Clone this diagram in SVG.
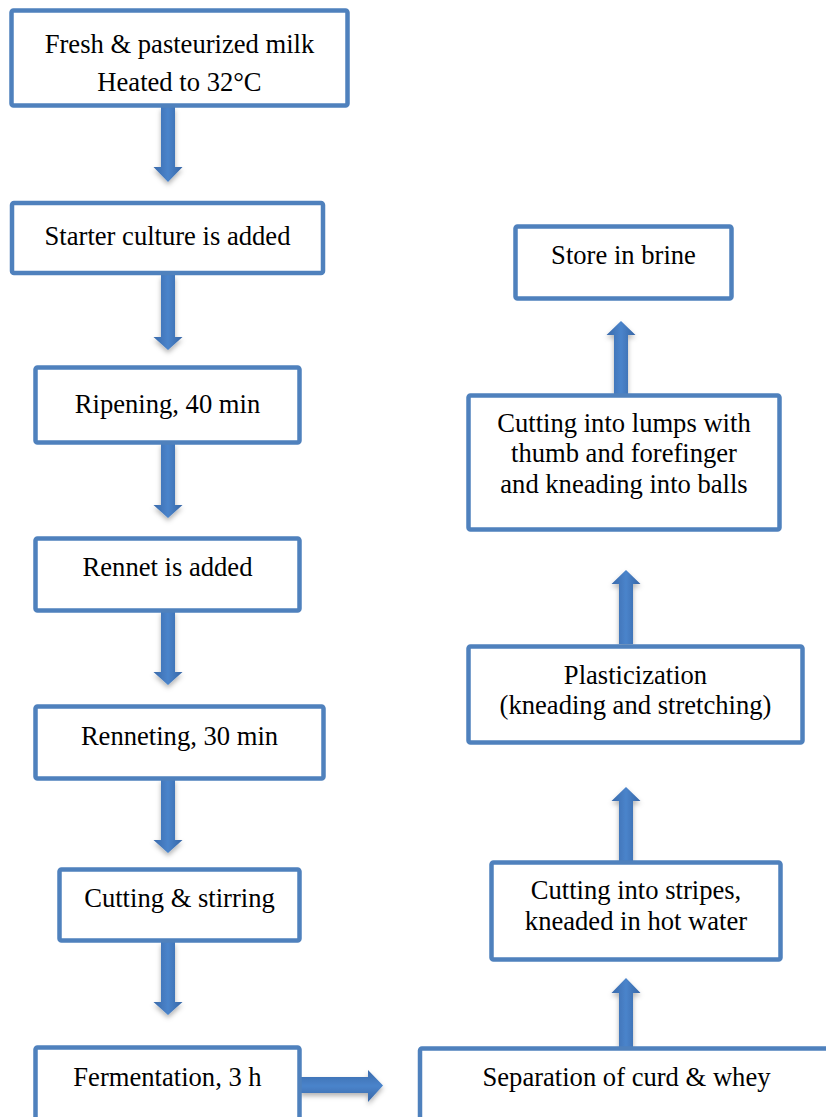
<svg xmlns="http://www.w3.org/2000/svg" width="826" height="1117" viewBox="0 0 826 1117">
  <defs>
    <style>
      .box { fill: #ffffff; stroke: #4f81bd; stroke-width: 4.5; }
      .lbl { font-family: "Liberation Serif", "Times New Roman", serif; font-size: 26.6px; fill: #000000; text-anchor: middle; }
      .arr { fill: url(#gv); filter: url(#sh); }
      .arrh { fill: url(#gh); filter: url(#sh); }
    </style>
    <linearGradient id="gv" x1="0" y1="0" x2="1" y2="0">
      <stop offset="0" stop-color="#3a6aab"/>
      <stop offset="0.5" stop-color="#4a84cb"/>
      <stop offset="1" stop-color="#3766a6"/>
    </linearGradient>
    <linearGradient id="gh" x1="0" y1="0" x2="0" y2="1">
      <stop offset="0" stop-color="#3a6aab"/>
      <stop offset="0.5" stop-color="#4a84cb"/>
      <stop offset="1" stop-color="#3766a6"/>
    </linearGradient>
    <filter id="sh" x="-50%" y="-20%" width="200%" height="150%">
      <feDropShadow dx="0" dy="3" stdDeviation="2.5" flood-color="#000000" flood-opacity="0.3"/>
    </filter>
  </defs>
  <rect width="826" height="1117" fill="#ffffff"/>

  <g id="connectors">
    <path class="arr" d="M161 107 H175 V167 H182.5 L168 182 L153.5 167 H161 Z"/>
    <path class="arr" d="M161 275 H175 V337 H182.5 L168 350 L153.5 337 H161 Z"/>
    <path class="arr" d="M161 443 H175 V505 H182.5 L168 518 L153.5 505 H161 Z"/>
    <path class="arr" d="M161 611 H175 V672 H182.5 L168 685 L153.5 672 H161 Z"/>
    <path class="arr" d="M161 779 H175 V840 H182.5 L168 853 L153.5 840 H161 Z"/>
    <path class="arr" d="M161 942 H175 V1002 H182.5 L168 1015 L153.5 1002 H161 Z"/>
    <path class="arrh" d="M300 1077 V1093 H368 V1102 L383 1085.5 L368 1070 V1077 Z"/>
    <path class="arr" d="M619 1047 H633 V993 H640.5 L626 978 L611.5 993 H619 Z"/>
    <path class="arr" d="M619 861 H633 V801 H640.5 L626 787 L611.5 801 H619 Z"/>
    <path class="arr" d="M619 644 H633 V584 H640.5 L626 570 L611.5 584 H619 Z"/>
    <path class="arr" d="M614 394 H628 V335 H635.5 L621 321 L606.5 335 H614 Z"/>
  </g>

  <g id="n1">
    <rect class="box" x="11.5" y="10.5" width="336" height="95" rx="2"/>
    <text class="lbl" x="179.5" y="53">Fresh &amp; pasteurized milk</text>
    <text class="lbl" x="179.5" y="91">Heated to 32°C</text>
  </g>
  <g id="n2">
    <rect class="box" x="12" y="203" width="311" height="70" rx="2"/>
    <text class="lbl" x="167.5" y="244.5">Starter culture is added</text>
  </g>
  <g id="n3">
    <rect class="box" x="35.5" y="367.5" width="264" height="75" rx="2"/>
    <text class="lbl" x="167.5" y="412.5">Ripening, 40 min</text>
  </g>
  <g id="n4">
    <rect class="box" x="35.5" y="538.5" width="264" height="72" rx="2"/>
    <text class="lbl" x="167.5" y="575.5">Rennet is added</text>
  </g>
  <g id="n5">
    <rect class="box" x="35.5" y="706.5" width="288" height="72" rx="2"/>
    <text class="lbl" x="179.5" y="744.5">Renneting, 30 min</text>
  </g>
  <g id="n6">
    <rect class="box" x="59.5" y="869.5" width="240" height="71" rx="2"/>
    <text class="lbl" x="179.5" y="906.5">Cutting &amp; stirring</text>
  </g>
  <g id="n7">
    <rect class="box" x="35.5" y="1047.5" width="264" height="90" rx="2"/>
    <text class="lbl" x="167.5" y="1085.5">Fermentation, 3 h</text>
  </g>
  <g id="n8">
    <rect class="box" x="420" y="1048.5" width="412" height="90" rx="2"/>
    <text class="lbl" x="626.5" y="1085.5">Separation of curd &amp; whey</text>
  </g>
  <g id="n9">
    <rect class="box" x="491.5" y="862.5" width="289" height="97" rx="2"/>
    <text class="lbl" x="636" y="898.5">Cutting into stripes,</text>
    <text class="lbl" x="636" y="929.5">kneaded in hot water</text>
  </g>
  <g id="n10">
    <rect class="box" x="468.5" y="646.5" width="334" height="96" rx="2"/>
    <text class="lbl" x="635.5" y="683.5">Plasticization</text>
    <text class="lbl" x="635.5" y="713.5">(kneading and stretching)</text>
  </g>
  <g id="n11">
    <rect class="box" x="468.5" y="395.5" width="311" height="134" rx="2"/>
    <text class="lbl" x="624" y="431.5">Cutting into lumps with</text>
    <text class="lbl" x="624" y="461.5">thumb and forefinger</text>
    <text class="lbl" x="624" y="492.5">and kneading into balls</text>
  </g>
  <g id="n12">
    <rect class="box" x="515.5" y="226.5" width="216" height="72" rx="2"/>
    <text class="lbl" x="623.5" y="263.5">Store in brine</text>
  </g>
</svg>
